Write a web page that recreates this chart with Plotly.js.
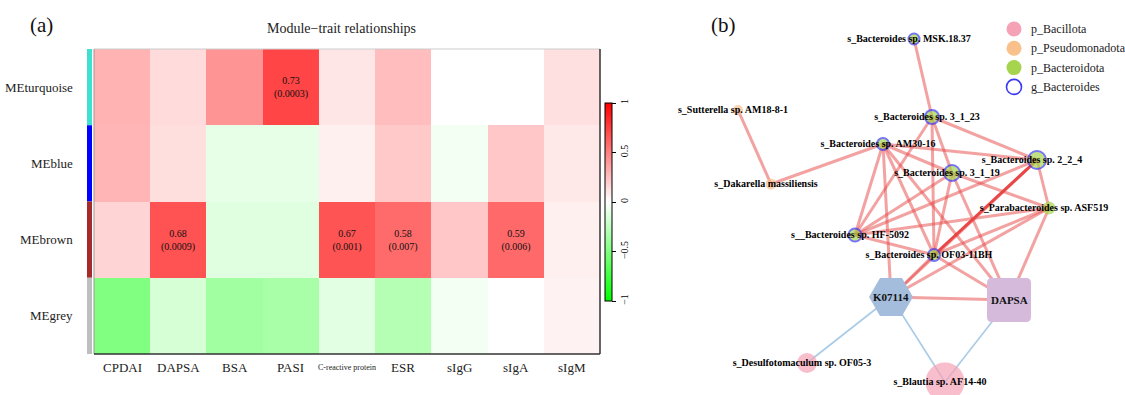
<!DOCTYPE html>
<html><head><meta charset="utf-8">
<script src="https://cdn.plot.ly/plotly-3.0.1.min.js"></script>
<style>body{margin:0;background:#fff}#chart{width:1125px;height:395px}</style>
</head><body><div id="chart"></div>
<script>
// ---------- (a) heatmap data ----------
const traits = ['CPDAI','DAPSA','BSA','PASI','C-reactive protein','ESR','sIgG','sIgA','sIgM'];
const modules = ['MEturquoise','MEblue','MEbrown','MEgrey'];
const moduleColors = ['#40e0d0','#0000ff','#a52a2a','#bebebe'];
const corTurquoise = [0.30,0.14,0.42,0.73,0.10,0.26,0.00,0.00,0.12];
const corBlue      = [0.29,0.13,-0.10,-0.10,0.06,0.21,-0.05,0.22,0.09];
const corBrown     = [0.17,0.68,-0.12,-0.12,0.67,0.58,0.22,0.59,0.06];
const corGrey      = [-0.50,-0.16,-0.37,-0.34,-0.11,-0.29,-0.05,0.00,0.05];
const pTurquoise = ['','','','0.0003','','','','',''];
const pBlue      = ['','','','','','','','',''];
const pBrown     = ['','0.0009','','','0.001','0.007','','0.006',''];
const pGrey      = ['','','','','','','','',''];
const colorbarTicks = [-1,-0.5,0,0.5,1];

// ---------- (b) network data ----------
const nodeIds = ['msk','b3123','am30','b224','b3119','para','hf','of03','sutt','daka','desu','blau','k07114','dapsa'];
const nodeLabels = ['s_Bacteroides sp. MSK.18.37','s_Bacteroides sp. 3_1_23','s_Bacteroides sp. AM30-16',
  's_Bacteroides sp. 2_2_4','s_Bacteroides sp. 3_1_19','s_Parabacteroides sp. ASF519','s__Bacteroides sp. HF-5092',
  's_Bacteroides sp. OF03-11BH','s_Sutterella sp. AM18-8-1','s_Dakarella massiliensis','s_Desulfotomaculum sp. OF05-3',
  's_Blautia sp. AF14-40','K07114','DAPSA'];
const nodeX = [914,932,883,1037,952,1049,855,934,738,771,807,945,891,1009];
const nodeY = [39,117,144,160,173,208,235,255,110,184,363,382,297,300];
const nodeSize = [11,14,12,18,16,13,13,12,10,11,20,39,44,44];
const nodeGroup = ['p_Bacteroidota','p_Bacteroidota','p_Bacteroidota','p_Bacteroidota','p_Bacteroidota','p_Bacteroidota',
  'p_Bacteroidota','p_Bacteroidota','p_Pseudomonadota','p_Pseudomonadota','p_Bacillota','p_Bacillota','KO','trait'];
const nodeGenusBacteroides = [true,true,true,true,true,false,true,true,false,false,false,false,false,false];
const edgeSource = ['msk','sutt','daka','b3123','b3123','b3123','b3123','am30','am30','am30','am30','am30','am30',
  'b224','b224','b224','b224','b3119','b3119','b3119','b3119','para','para','para','para','hf','of03','of03','k07114',
  'k07114','k07114','dapsa'];
const edgeTarget = ['b3123','daka','am30','b224','b3119','hf','of03','b224','b3119','hf','of03','k07114','dapsa',
  'hf','of03','para','k07114','hf','of03','dapsa','para','hf','of03','dapsa','k07114','of03','k07114','dapsa','dapsa',
  'desu','blau','blau'];
const edgeKind = ['pos','pos','pos','pos','pos','pos','pos','pos','pos','pos','pos','pos','pos',
  'pos','strong','pos','pos','pos','pos','pos','pos','pos','pos','pos','pos','pos','pos','pos','pos',
  'neg','neg','neg'];
const legendNames = ['p_Bacillota','p_Pseudomonadota','p_Bacteroidota','g_Bacteroides'];

// ---------- styles ----------
const W = 1125, H = 395;
const SERIF = 'Liberation Serif';
const groupColor = {'p_Bacillota':'#f6a2b6','p_Pseudomonadota':'#f9c08c','p_Bacteroidota':'#a6d44e','KO':'#a5bddc','trait':'#d5badc'};
const genusLine = '#3b3bf2';
const edgeStyle = {pos:{color:'rgba(232,70,70,0.5)',width:3}, strong:{color:'rgba(230,40,40,0.85)',width:3},
                   neg:{color:'#a9cbe6',width:1.6}};
const px = x => x / W, py = y => 1 - y / H;
const hm = {l:94, r:600, t:49, b:354};

const zRows = [corTurquoise, corBlue, corBrown, corGrey];
const pRows = [pTurquoise, pBlue, pBrown, pGrey];
const textRows = zRows.map((row, i) => row.map((v, j) => pRows[i][j] ? v.toFixed(2) + '<br>(' + pRows[i][j] + ')' : ''));

const traces = [];
traces.push({
  type:'heatmap', x: traits, y: modules, z: zRows, text: textRows, texttemplate:'%{text}',
  textfont:{family:SERIF, size:10, color:'#111'},
  colorscale:[[0,'#00ff00'],[0.5,'#ffffff'],[1,'#ff0000']], zmin:-1, zmax:1, xgap:0, ygap:0,
  hoverinfo:'skip',
  colorbar:{x:px(605), xanchor:'left', y:py(202), yanchor:'middle', len:198, lenmode:'pixels',
    thickness:7, thicknessmode:'pixels', outlinewidth:1, outlinecolor:'#000', xpad:0, ypad:0,
    ticks:'outside', ticklen:4, tickwidth:1, tickcolor:'#000', tickvals:colorbarTicks, tickangle:-90,
    tickfont:{family:SERIF, size:10, color:'#000'}},
  xaxis:'x', yaxis:'y'
});

// network edges
const idx = id => nodeIds.indexOf(id);
edgeSource.forEach((s, k) => {
  const a = idx(s), b = idx(edgeTarget[k]);
  const st = edgeStyle[edgeKind[k]];
  traces.push({type:'scatter', mode:'lines', x:[nodeX[a], nodeX[b]], y:[nodeY[a], nodeY[b]],
    line:{color:st.color, width:st.width}, hoverinfo:'skip', xaxis:'x2', yaxis:'y2'});
});
// circular nodes
const circ = nodeIds.map((_, i) => i).filter(i => nodeGroup[i].startsWith('p_'));
traces.push({type:'scatter', mode:'markers', xaxis:'x2', yaxis:'y2', hoverinfo:'skip',
  x: circ.map(i => nodeX[i]), y: circ.map(i => nodeY[i]),
  marker:{size: circ.map(i => nodeSize[i]), color: circ.map(i => groupColor[nodeGroup[i]]),
    line:{color: circ.map(i => nodeGenusBacteroides[i] ? genusLine : groupColor[nodeGroup[i]]),
          width: circ.map(i => nodeGenusBacteroides[i] ? 2 : 0)}}});
// labels of circular nodes
traces.push({type:'scatter', mode:'text', xaxis:'x2', yaxis:'y2', hoverinfo:'skip',
  x: circ.map(i => nodeX[i] - 5), y: circ.map(i => nodeY[i]), text: circ.map(i => '<b>' + nodeLabels[i] + '</b>'),
  textposition:'middle center', textfont:{family:SERIF, size:10, color:'#000'}});
// legend markers
const legColors = legendNames.map(n => groupColor[n] || '#ffffff');
traces.push({type:'scatter', mode:'markers', xaxis:'x2', yaxis:'y2', hoverinfo:'skip',
  x: legendNames.map(() => 1014), y: legendNames.map((_, i) => 29 + i * 19.3),
  marker:{size:15, color: legColors,
    line:{color: legendNames.map(n => n.startsWith('g_') ? genusLine : 'rgba(0,0,0,0)'),
          width: legendNames.map(n => n.startsWith('g_') ? 1.6 : 0)}}});

// ---------- shapes & annotations ----------
const shapes = [];
const annotations = [];
modules.forEach((m, i) => {
  shapes.push({type:'rect', xref:'paper', yref:'y', x0:px(87), x1:px(92), y0:i-0.5, y1:i+0.5,
    fillcolor:moduleColors[i], line:{width:0}, layer:'above'});
  annotations.push({xref:'paper', yref:'y', x:px(75), y:m, text:m, xanchor:'right', yanchor:'middle',
    showarrow:false, font:{family:SERIF, size:13, color:'#222'}});
});
traits.forEach(t => {
  annotations.push({xref:'x', yref:'paper', x:t, y:py(367), text:t, xanchor:'center', yanchor:'middle',
    showarrow:false, font:{family:SERIF, size: t.length > 8 ? 8 : 13, color:'#222'}});
});
shapes.push({type:'line', xref:'paper', yref:'paper', x0:px(hm.l), x1:px(hm.r), y0:py(hm.t), y1:py(hm.t), line:{color:'#cccccc', width:1}});
shapes.push({type:'line', xref:'paper', yref:'paper', x0:px(hm.l), x1:px(hm.l), y0:py(hm.t), y1:py(hm.b), line:{color:'#999999', width:1}});
shapes.push({type:'line', xref:'paper', yref:'paper', x0:px(hm.l), x1:px(hm.r), y0:py(hm.b), y1:py(hm.b), line:{color:'#333333', width:1.5}});
shapes.push({type:'line', xref:'paper', yref:'paper', x0:px(hm.r), x1:px(hm.r), y0:py(hm.t), y1:py(hm.b), line:{color:'#333333', width:1.5}});

annotations.push({xref:'paper', yref:'paper', x:px(341), y:py(28), text:'Module\u2212trait relationships', showarrow:false,
  xanchor:'center', yanchor:'middle', font:{family:SERIF, size:14, color:'#222'}});
annotations.push({xref:'paper', yref:'paper', x:px(28), y:py(25), text:'(a)', showarrow:false,
  xanchor:'left', yanchor:'middle', font:{family:SERIF, size:21, color:'#111'}});
annotations.push({xref:'paper', yref:'paper', x:px(709), y:py(25), text:'(b)', showarrow:false,
  xanchor:'left', yanchor:'middle', font:{family:SERIF, size:21, color:'#111'}});

// K07114 hexagon and DAPSA rounded square as shapes computed from node positions
const iK = idx('k07114'), iD = idx('dapsa');
{
  const cx = nodeX[iK], cy = nodeY[iK], r = nodeSize[iK] / 2, h = r * Math.sqrt(3) / 2;
  const path = `M${cx - r},${cy} L${cx - r/2},${cy - h} L${cx + r/2},${cy - h} L${cx + r},${cy} L${cx + r/2},${cy + h} L${cx - r/2},${cy + h} Z`;
  shapes.push({type:'path', xref:'x2', yref:'y2', path, fillcolor:groupColor[nodeGroup[iK]], line:{width:0}, layer:'above'});
  annotations.push({xref:'x2', yref:'y2', x:cx, y:cy, text:'<b>' + nodeLabels[iK] + '</b>', showarrow:false,
    font:{family:SERIF, size:11, color:'#111'}});
}
{
  const cx = nodeX[iD], cy = nodeY[iD], s = nodeSize[iD] / 2, c = 5;
  const x0 = cx - s, x1 = cx + s, y0 = cy - s, y1 = cy + s;
  const path = `M${x0 + c},${y0} L${x1 - c},${y0} Q${x1},${y0} ${x1},${y0 + c} L${x1},${y1 - c} Q${x1},${y1} ${x1 - c},${y1} L${x0 + c},${y1} Q${x0},${y1} ${x0},${y1 - c} L${x0},${y0 + c} Q${x0},${y0} ${x0 + c},${y0} Z`;
  shapes.push({type:'path', xref:'x2', yref:'y2', path, fillcolor:groupColor[nodeGroup[iD]], line:{width:0}, layer:'above'});
  annotations.push({xref:'x2', yref:'y2', x:cx, y:cy, text:'<b>' + nodeLabels[iD] + '</b>', showarrow:false,
    font:{family:SERIF, size:11, color:'#111'}});
}
legendNames.forEach((n, i) => {
  annotations.push({xref:'x2', yref:'y2', x:1029, y:29 + i * 19.3, text:n, showarrow:false, xanchor:'left', yanchor:'middle',
    font:{family:SERIF, size:12, color:'#222'}});
});

const axOff = {showgrid:false, zeroline:false, showticklabels:false, ticks:'', showline:false};
const layout = {
  width:W, height:H, margin:{l:0, r:0, t:0, b:0}, showlegend:false,
  font:{family:SERIF},
  paper_bgcolor:'#ffffff', plot_bgcolor:'rgba(0,0,0,0)',
  xaxis:Object.assign({domain:[px(hm.l), px(hm.r)], type:'category', fixedrange:true}, axOff),
  yaxis:Object.assign({domain:[py(hm.b), py(hm.t)], type:'category', autorange:'reversed', fixedrange:true}, axOff),
  xaxis2:Object.assign({domain:[px(660), 1], range:[660, 1125], anchor:'y2', fixedrange:true, visible:false}, axOff),
  yaxis2:Object.assign({domain:[0, 1], range:[395, 0], anchor:'x2', fixedrange:true, visible:false}, axOff),
  shapes, annotations
};
Plotly.newPlot('chart', traces, layout, {displayModeBar:false, staticPlot:true});
</script></body></html>
